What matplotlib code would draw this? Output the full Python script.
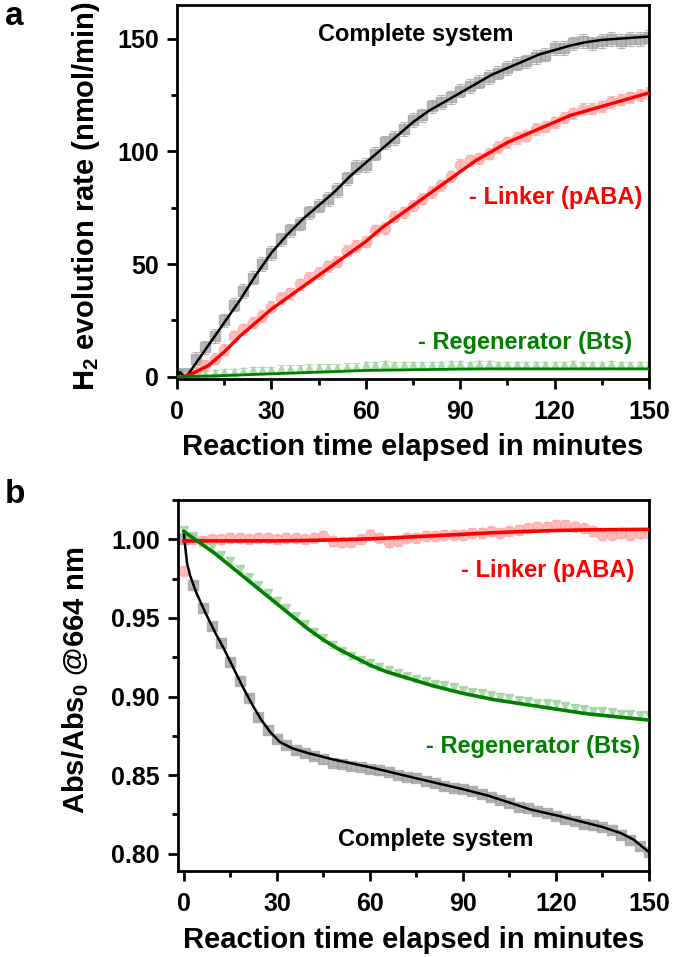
import matplotlib.pyplot as plt
from matplotlib.ticker import MultipleLocator

plt.rcParams['font.family'] = ['Liberation Sans', 'DejaVu Sans']
plt.rcParams['font.weight'] = 'bold'
plt.rcParams['mathtext.fontset'] = 'custom'
plt.rcParams['mathtext.rm'] = 'Liberation Sans:bold'
plt.rcParams['mathtext.it'] = 'Liberation Sans:bold'
plt.rcParams['mathtext.bf'] = 'Liberation Sans:bold'

# sampling times of the measured points (min)
t_pts = list(range(0, 151, 3))

# ---- panel a: H2 evolution rate (nmol/min) ----
h2_complete = [1, 1, 8, 13, 18, 25, 32, 38, 44, 50, 55, 61, 65, 68, 73, 76, 79, 83, 88, 93,
               94, 99, 104, 106, 110, 114, 116, 120, 122, 124, 127, 129, 131, 133, 135, 137,
               139, 140, 142, 143, 146, 146, 148, 149, 148, 149, 150, 149, 150, 150, 151]
h2_no_linker = [0, 0, 2, 5, 8, 12, 18, 21, 24, 27, 31, 35, 37, 41, 44, 46, 49, 51, 56, 58,
                60, 65, 66, 71, 73, 76, 79, 82, 85, 89, 94, 96, 97, 99, 102, 104, 106, 107,
                110, 111, 113, 115, 117, 119, 119, 120, 122, 123, 124, 125, 126]
h2_no_regen = [0, 0.5, 1, 1, 1.5, 2, 2, 2.5, 3, 3, 3, 3.5, 3.5, 3.5, 4, 4, 4, 4, 4.5, 4.5,
               5, 5, 5.5, 5, 5, 5, 5, 5, 5, 5.5, 5.5, 5, 5.5, 5.5, 5, 5, 5, 5, 5, 5, 5, 5,
               5.5, 5, 5, 5, 5.5, 5, 5, 5, 5]
err_a = {'complete': 3.0, 'linker': 2.5, 'regen': 1.5}

t_fit_complete_a = [0, 1, 2, 3, 5, 10, 15, 20, 25, 30, 35, 40, 45, 50, 55, 60, 65, 70, 75, 80,
                    85, 90, 95, 100, 105, 110, 115, 120, 125, 130, 135, 140, 145, 150]
fit_complete_a = [0, 2, 0.5, 0, 4, 14, 24, 34, 45, 55, 63, 70, 76, 82, 89, 95, 101, 107, 113,
                  118, 122, 126, 130, 134, 137, 140, 143, 145, 147, 148.5, 149.5, 150, 150.5, 151]
t_fit_linker_a = [2, 5, 10, 15, 20, 25, 30, 35, 40, 45, 50, 55, 60, 65, 70, 75, 80, 85, 90,
                  95, 100, 105, 110, 115, 120, 125, 130, 135, 140, 145, 150]
fit_linker_a = [0, 1.5, 5, 11, 18, 24, 30, 35, 40, 45, 50, 55, 60, 66, 71, 76, 81, 86, 91,
                96, 100, 104, 107, 110, 113, 116, 118, 120, 122, 124, 126]
t_fit_regen_a = [0, 10, 20, 30, 40, 50, 60, 70, 80, 90, 100, 110, 120, 130, 140, 150]
fit_regen_a = [0, 0.3, 0.8, 1.3, 1.8, 2.3, 2.8, 3.0, 3.2, 3.4, 3.5, 3.5, 3.5, 3.5, 3.5, 3.5]

# ---- panel b: Abs/Abs0 @664 nm ----
abs_complete = [1.000, 0.971, 0.956, 0.945, 0.934, 0.922, 0.910, 0.899, 0.887, 0.879, 0.873,
                0.869, 0.866, 0.864, 0.862, 0.860, 0.858, 0.857, 0.856, 0.855, 0.854, 0.853,
                0.852, 0.850, 0.849, 0.848, 0.846, 0.845, 0.843, 0.842, 0.841, 0.840, 0.838,
                0.836, 0.834, 0.832, 0.830, 0.829, 0.827, 0.826, 0.824, 0.822, 0.821, 0.819,
                0.818, 0.817, 0.815, 0.812, 0.809, 0.805, 0.801]
abs_no_linker = [0.980, 1.000, 0.999, 1.000, 1.000, 1.001, 1.001, 1.000, 1.001, 1.001, 1.000,
                 1.001, 1.001, 1.000, 1.001, 1.002, 0.999, 0.998, 0.998, 1.000, 1.003, 1.001,
                 0.998, 0.999, 1.001, 1.001, 1.002, 1.002, 1.003, 1.003, 1.003, 1.004, 1.004,
                 1.005, 1.004, 1.005, 1.006, 1.007, 1.008, 1.008, 1.009, 1.009, 1.008, 1.007,
                 1.005, 1.003, 1.003, 1.004, 1.003, 1.004, 1.004]
abs_no_regen = [1.006, 1.002, 0.998, 0.995, 0.990, 0.986, 0.981, 0.976, 0.971, 0.966, 0.961,
                0.956, 0.951, 0.946, 0.941, 0.937, 0.933, 0.929, 0.926, 0.923, 0.921, 0.919,
                0.917, 0.915, 0.913, 0.911, 0.910, 0.908, 0.907, 0.906, 0.904, 0.903, 0.902,
                0.901, 0.900, 0.899, 0.898, 0.897, 0.896, 0.896, 0.895, 0.894, 0.893, 0.892,
                0.891, 0.891, 0.890, 0.889, 0.889, 0.888, 0.888]
err_b = {'complete': 0.002, 'linker': 0.003, 'regen': 0.002}

t_fit_complete_b = [0, 1, 2, 4, 7, 10, 13, 16, 19, 22, 25, 28, 31, 35, 40, 48, 60, 77, 90, 98,
                    112, 121, 135, 141, 145, 150]
fit_complete_b = [1.003, 0.985, 0.977, 0.966, 0.953, 0.941, 0.930, 0.918, 0.906, 0.895, 0.885,
                  0.877, 0.871, 0.867, 0.864, 0.860, 0.855, 0.847, 0.841, 0.837, 0.828, 0.824,
                  0.817, 0.813, 0.809, 0.801]
t_fit_linker_b = [0, 10, 20, 30, 40, 50, 60, 70, 80, 90, 100, 110, 120, 130, 140, 150]
fit_linker_b = [0.999, 0.999, 0.999, 0.999, 0.9993, 0.9997, 1.0003, 1.0012, 1.0022, 1.0032,
                1.0042, 1.0050, 1.0056, 1.0060, 1.0062, 1.0063]
t_fit_regen_b = [0, 5, 10, 15, 20, 25, 30, 35, 40, 45, 50, 55, 60, 65, 70, 75, 80, 90, 100,
                 110, 120, 130, 140, 150]
fit_regen_b = [1.005, 0.998, 0.991, 0.983, 0.975, 0.967, 0.959, 0.951, 0.943, 0.936, 0.930,
               0.925, 0.920, 0.916, 0.913, 0.910, 0.907, 0.902, 0.898, 0.895, 0.892, 0.889,
               0.887, 0.885]

BLACK, GRAY = '#000000', '#a0a0a0'
RED, PINK = '#ff0000', '#ffa8a8'
GREEN, LGREEN = '#008000', '#9ed49e'
TICK_FS, LABEL_FS, NOTE_FS = 18, 21, 17


def points(ax, y, err, marker, color, ms):
    ax.errorbar(t_pts, y, yerr=err, fmt=marker, ms=ms, mfc=color, mec=color,
                ecolor=color, elinewidth=0.8, capsize=3, capthick=0.8, alpha=0.75, zorder=2)


def style(ax):
    for s in ax.spines.values():
        s.set_linewidth(2)
    ax.tick_params(which='major', direction='out', length=7, width=2, labelsize=TICK_FS, pad=6)
    ax.tick_params(which='minor', direction='out', length=4, width=2)
    ax.tick_params(axis='x', which='major', pad=8)
    ax.xaxis.set_major_locator(MultipleLocator(30))
    ax.xaxis.set_minor_locator(MultipleLocator(15))
    for lab in ax.get_xticklabels() + ax.get_yticklabels():
        lab.set_fontweight('bold')


fig = plt.figure(figsize=(6.75, 9.57), dpi=100)
ax_a = fig.add_axes([177 / 675, 1 - 379 / 957, 472 / 675, 374 / 957])
ax_b = fig.add_axes([177.7 / 675, 1 - 871 / 957, 471.3 / 675, 371 / 957])

# panel a
points(ax_a, h2_complete, err_a['complete'], 's', GRAY, 7)
points(ax_a, h2_no_linker, err_a['linker'], 'o', PINK, 7.5)
points(ax_a, h2_no_regen, err_a['regen'], '^', LGREEN, 5.5)
ax_a.plot(t_fit_complete_a, fit_complete_a, color=BLACK, lw=1.8, zorder=3)
ax_a.plot(t_fit_linker_a, fit_linker_a, color=RED, lw=2.4, zorder=3)
ax_a.plot(t_fit_regen_a, fit_regen_a, color=GREEN, lw=2.0, zorder=3)
ax_a.set_xlim(0, 150)
ax_a.set_ylim(-1, 165)
ax_a.yaxis.set_major_locator(MultipleLocator(50))
ax_a.yaxis.set_minor_locator(MultipleLocator(25))
style(ax_a)
ax_a.set_xlabel('Reaction time elapsed in minutes', fontsize=LABEL_FS, fontweight='bold', va='center')
ax_a.xaxis.set_label_coords(0.5, -0.182)
ax_a.set_ylabel('H$_2$ evolution rate (nmol/min)', fontsize=LABEL_FS, fontweight='bold', va='center')
ax_a.yaxis.set_label_coords(-0.193, 0.489)
ax_a.text(76, 152, 'Complete system', color=BLACK, fontsize=NOTE_FS, fontweight='bold',
          ha='center', va='center')
ax_a.text(120.3, 79.6, '- Linker (pABA)', color=RED, fontsize=NOTE_FS, fontweight='bold',
          ha='center', va='center')
ax_a.text(110.6, 15, '- Regenerator (Bts)', color=GREEN, fontsize=NOTE_FS, fontweight='bold',
          ha='center', va='center')

# panel b
points(ax_b, abs_complete, err_b['complete'], 's', GRAY, 7)
points(ax_b, abs_no_linker, err_b['linker'], 'o', PINK, 7.5)
points(ax_b, abs_no_regen, err_b['regen'], 'v', LGREEN, 5.5)
ax_b.plot(t_fit_complete_b, fit_complete_b, color=BLACK, lw=1.8, zorder=3)
ax_b.plot(t_fit_linker_b, fit_linker_b, color=RED, lw=2.6, zorder=3)
ax_b.plot(t_fit_regen_b, fit_regen_b, color=GREEN, lw=2.6, zorder=3)
ax_b.set_xlim(-2, 150)
ax_b.set_ylim(0.789, 1.025)
ax_b.yaxis.set_major_locator(MultipleLocator(0.05))
ax_b.yaxis.set_minor_locator(MultipleLocator(0.025))
ax_b.yaxis.set_major_formatter(plt.FormatStrFormatter('%.2f'))
style(ax_b)
ax_b.set_xlabel('Reaction time elapsed in minutes', fontsize=LABEL_FS, fontweight='bold', va='center')
ax_b.xaxis.set_label_coords(0.5, -0.186)
ax_b.set_ylabel('Abs/Abs$_0$ @664 nm', fontsize=LABEL_FS, fontweight='bold', va='center')
ax_b.yaxis.set_label_coords(-0.216, 0.515)
ax_b.text(117.3, 0.9803, '- Linker (pABA)', color=RED, fontsize=NOTE_FS, fontweight='bold',
          ha='center', va='center')
ax_b.text(112.6, 0.8681, '- Regenerator (Bts)', color=GREEN, fontsize=NOTE_FS, fontweight='bold',
          ha='center', va='center')
ax_b.text(81.3, 0.8089, 'Complete system', color=BLACK, fontsize=NOTE_FS, fontweight='bold',
          ha='center', va='center')

fig.text(5 / 675, 1 - 25 / 957, 'a', fontsize=24, fontweight='bold', va='baseline')
fig.text(5 / 675, 1 - 503 / 957, 'b', fontsize=24, fontweight='bold', va='baseline')

fig.savefig('out.png', dpi=100)
